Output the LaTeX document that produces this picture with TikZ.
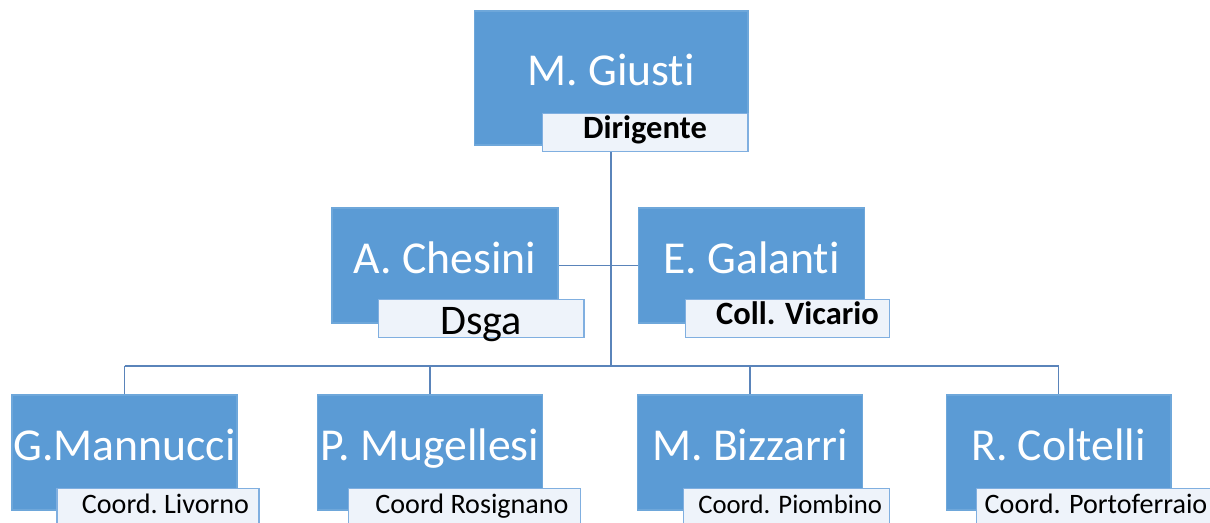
\documentclass[tikz,border=0pt]{standalone}
\usepackage{fontspec}
\setmainfont[Ligatures=NoCommon]{Carlito}
\usepackage[dvipsnames,svgnames,x11names]{xcolor}
\definecolor{BoxBlue}{HTML}{5B9BD5}
\definecolor{BoxEdge}{HTML}{6EA7DA}
\definecolor{TagFill}{HTML}{EEF3FA}
\definecolor{TagEdge}{HTML}{80AFE0}
\definecolor{LinkBlue}{HTML}{5A84BA}
\usepackage{tikz}
\usetikzlibrary{positioning, calc, backgrounds}

\begin{document}
\begin{tikzpicture}[
  x=0.02cm, y=-0.02cm,
  person/.style={
    rectangle, draw=BoxEdge, fill=BoxBlue,
    inner sep=0pt, line width=0.6pt,
    text=white, font=\fontsize{26}{30}\selectfont,
    text height=17pt, text depth=8pt
  },
  boss/.style={person, minimum width=5.48cm, minimum height=2.68cm},
  staff/.style={person, minimum width=4.52cm, minimum height=2.30cm},
  tag/.style={
    rectangle, draw=TagEdge, fill=TagFill,
    inner sep=0pt, line width=0.6pt,
    anchor=north west, minimum height=0.77cm,
    text=black, font=\fontsize{16}{19}\selectfont,
    text height=0.66em, text depth=0pt
  },
  link/.style={draw=LinkBlue, line width=0.9pt},
]
\useasboundingbox (0,0) rectangle (1210,523);

% Dirigente
\node[boss] (giusti) at (611,78) {M. Giusti};
\node[tag, minimum width=4.12cm, font=\fontsize{18.5}{22}\selectfont\bfseries]
  (giusti-tag) at ([shift={(68,-33)}]giusti.south west) {Dirigente};

% Staff
\node[staff] (chesini) at (445,265.5) {A. Chesini};
\node[staff] (galanti) at (751.5,265.5) {E. Galanti};
\node[tag, minimum width=4.12cm, font=\fontsize{24}{28}\selectfont, text height=19pt]
  (chesini-tag) at ([shift={(46,-25)}]chesini.south west) {Dsga};
\node[tag, minimum width=4.08cm, font=\fontsize{18.5}{22}\selectfont\bfseries]
  (galanti-tag) at ([shift={(47,-25)}]galanti.south west) {\hspace{0.4cm}Coll. Vicario};

% Coordinatori
\node[staff, minimum width=4.50cm] (mannucci) at (124.5,452.5) {G.Mannucci};
\node[staff, minimum width=4.50cm] (mugellesi) at (430,452.5) {P. Mugellesi};
\node[staff, minimum width=4.50cm] (bizzarri) at (750,452.5) {M. Bizzarri};
\node[staff, minimum width=4.50cm] (coltelli) at (1058.5,452.5) {R. Coltelli};
\node[tag, minimum width=4.04cm] (mannucci-tag) at ([shift={(45,-23)}]mannucci.south west) {\hspace{0.3cm}Coord.\ Livorno};
\node[tag, minimum width=4.64cm] (mugellesi-tag) at ([shift={(31,-23)}]mugellesi.south west) {\hspace{0.3cm}Coord Rosignano};
\node[tag, minimum width=4.12cm, font=\fontsize{15.2}{18}\selectfont] (bizzarri-tag) at ([shift={(46,-23)}]bizzarri.south west) {\hspace{0.15cm}Coord. Piombino};
\node[tag, minimum width=4.80cm] (coltelli-tag) at ([shift={(30,-23)}]coltelli.south west) {Coord. Portoferraio\hspace{0.2cm}};

% Connectors
\coordinate (bus) at (611,366);
\begin{scope}[on background layer]
\draw[link] (giusti.south) -- (bus);
\draw[link] (chesini.east) -- (galanti.west);
\draw[link] (mannucci.north |- bus) -- (coltelli.north |- bus);
\foreach \n in {mannucci,mugellesi,bizzarri,coltelli}
  \draw[link] (\n.north |- bus) -- (\n.north);
\end{scope}

\end{tikzpicture}
\end{document}
